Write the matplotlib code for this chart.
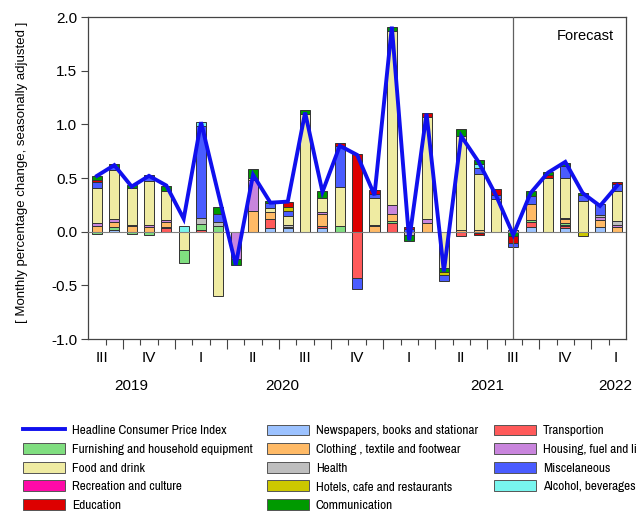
import numpy as np
import matplotlib
matplotlib.use("Agg")
import matplotlib.pyplot as plt
from matplotlib import font_manager
from matplotlib.patches import Patch
from matplotlib.lines import Line2D

# ---------------- data (monthly, Aug 2019 .. Feb 2022) ----------------
months = ["2019-08", "2019-09", "2019-10", "2019-11", "2019-12",
          "2020-01", "2020-02", "2020-03", "2020-04", "2020-05", "2020-06",
          "2020-07", "2020-08", "2020-09", "2020-10", "2020-11", "2020-12",
          "2021-01", "2021-02", "2021-03", "2021-04", "2021-05", "2021-06",
          "2021-07", "2021-08", "2021-09", "2021-10", "2021-11", "2021-12",
          "2022-01", "2022-02"]

headline = [0.52, 0.62, 0.42, 0.52, 0.43, 0.12, 1.02, 0.35, -0.31, 0.53, 0.27,
            0.28, 1.11, 0.37, 0.80, 0.715, 0.34, 1.91, -0.08, 1.10, -0.37, 0.89,
            0.65, 0.34, -0.03, 0.36, 0.55, 0.65, 0.36, 0.24, 0.43]

furnishing = [-0.02, 0.02, -0.02, -0.035, 0, -0.12, 0.05, 0.055, 0, 0, 0,
              0.015, 0, 0, 0.055, 0, 0, 0.02, 0, 0, 0, 0,
              0, 0, 0, 0.02, 0, 0.015, 0, 0, 0]
food = [0.33, 0.46, 0.34, 0.41, 0.27, -0.17, 0, -0.60, 0, 0.02, 0.04,
        0.085, 1.10, 0.13, 0.36, 0, 0.25, 1.62, 0, 0.955, -0.34, 0.87,
        0.52, 0.30, 0, 0, 0.50, 0.37, 0.29, 0, 0.28]
recreation = [0, 0, 0, 0, 0.01, 0, 0, 0, 0, 0, 0,
              0, 0, 0, 0, 0, 0, 0, 0, 0, 0, 0,
              0, 0, 0, 0, 0, 0.015, 0, 0, 0]
education = [0.025, 0, 0, 0, 0, 0, 0, 0, 0, 0, 0,
             0.045, 0, 0, 0.03, 0.72, 0.03, 0, 0.02, 0.04, 0, 0,
             -0.025, 0.06, -0.07, 0, 0.025, 0, 0, 0, 0.02]
newspapers = [0, 0.02, 0, 0, 0, 0, 0, 0, 0, 0, 0.035,
              0.03, 0, 0.03, 0, 0, 0, 0, 0, 0, 0, 0,
              0, 0, 0, 0.045, 0, 0.03, 0, 0.04, 0]
clothing = [0.05, 0.05, 0.05, 0.045, 0.05, 0, 0, 0, 0, 0.19, 0.065,
            0, 0, 0.11, 0, 0, 0.055, 0.06, 0, 0.085, 0, 0.02,
            0.02, 0, 0.015, 0.145, 0, 0.035, 0, 0.065, 0.04]
health = [0, 0, 0, 0, 0, 0, 0.055, 0.035, 0, 0, 0,
          0.02, 0, 0, 0, 0, 0.01, 0, -0.035, 0, 0, 0,
          -0.01, 0, 0, 0, 0, 0, 0, 0.02, 0.03]
hotels = [0, 0, 0, 0, 0, 0, 0, 0, 0, 0, 0,
          0.035, 0, 0, 0, 0, 0, 0, 0, 0, -0.02, 0,
          0, 0, 0, 0, 0, 0, -0.04, 0, 0]
communication = [0.03, 0.035, 0.03, 0, 0.045, 0, 0, 0.07, -0.06, 0.08, 0.025,
                 0, 0.03, 0.07, 0, 0, 0, 0.045, -0.055, 0, -0.04, 0.065,
                 0.035, 0, -0.04, 0.04, 0.035, 0.03, 0.02, 0, 0]
transport = [0, 0, 0, 0, 0.03, 0, 0.02, 0, 0, 0, 0.08,
             0, 0, 0.025, 0, -0.43, 0, 0.08, 0, 0, 0, -0.04,
             0, 0, 0, 0.045, 0, 0.02, 0, 0, 0]
housing = [0.03, 0.025, 0.015, 0.015, 0.02, 0, 0, 0, -0.25, 0.29, 0,
           0, 0, 0.015, 0, 0, 0, 0.085, 0, 0.03, 0, 0,
           0, 0, 0, 0, 0, 0.015, 0, 0.03, 0.025]
misc = [0.05, 0.025, 0, 0.055, 0, 0, 0.86, 0.07, 0, 0, 0.045,
        0.045, 0, 0, 0.38, -0.10, 0.04, 0, 0.025, 0, -0.06, 0,
        0.05, 0.04, -0.03, 0.08, 0, 0.11, 0.05, 0.10, 0.065]
alcohol = [0, 0, 0, 0, 0, 0.05, 0.04, 0, 0, 0, 0,
           0, 0, 0, 0, 0, 0, 0, 0, 0, 0, 0,
           0.04, 0, 0, 0, 0, 0, 0, 0, 0]

quarter_labels = ["III", "IV", "I", "II", "III", "IV", "I", "II", "III", "IV", "I"]
quarter_pos = [0.3, 3, 6, 9, 12, 15, 18, 21, 24, 27, 29.9]
year_labels = ["2019", "2020", "2021", "2022"]
year_pos = [2.0, 10.7, 22.5, 29.9]
forecast_start = 24

series = {
    "Furnishing and household equipment": (furnishing, "#80DE80"),
    "Food and drink": (food, "#EFEBA2"),
    "Recreation and culture": (recreation, "#FF0AA8"),
    "Education": (education, "#DD0000"),
    "Newspapers, books and stationar": (newspapers, "#9CC2FF"),
    "Clothing , textile and footwear": (clothing, "#FFBA66"),
    "Health": (health, "#BEBEBE"),
    "Hotels, cafe and restaurants": (hotels, "#CCC800"),
    "Communication": (communication, "#009A00"),
    "Transportion": (transport, "#FF5A5A"),
    "Housing, fuel and light": (housing, "#C985DD"),
    "Miscelaneous": (misc, "#4A5CFF"),
    "Alcohol, beverages": (alcohol, "#78F5EE"),
}

pos_order = ["Newspapers, books and stationar", "Transportion", "Recreation and culture",
             "Furnishing and household equipment", "Clothing , textile and footwear",
             "Housing, fuel and light", "Health", "Food and drink", "Miscelaneous",
             "Alcohol, beverages", "Hotels, cafe and restaurants",
             "Education", "Communication"]
neg_order = ["Food and drink", "Housing, fuel and light", "Transportion",
             "Clothing , textile and footwear", "Health",
             "Furnishing and household equipment", "Communication", "Education",
             "Hotels, cafe and restaurants", "Miscelaneous",
             "Newspapers, books and stationar", "Alcohol, beverages",
             "Recreation and culture"]

# ---------------- fonts ----------------
def have(name):
    try:
        font_manager.findfont(font_manager.FontProperties(family=name), fallback_to_default=False)
        return True
    except Exception:
        return False

base_font = "Liberation Sans" if have("Liberation Sans") else "DejaVu Sans"
plt.rcParams["font.family"] = [base_font, "DejaVu Sans"]
plt.rcParams["axes.unicode_minus"] = False

# look for a narrow / condensed face for the legend
legend_prop = None
for f in font_manager.fontManager.ttflist:
    if ("Narrow" in f.name) and f.style == "normal" and f.weight in (400, "normal", "regular"):
        legend_prop = font_manager.FontProperties(fname=f.fname, size=9.6)
        break
if legend_prop is None:
    for f in font_manager.fontManager.ttflist:
        if f.name == "DejaVu Sans" and "condensed" in str(f.stretch) and f.style == "normal" \
                and f.weight in (400, "normal", "regular") and "Condensed" in f.fname and "Bold" not in f.fname:
            legend_prop = font_manager.FontProperties(fname=f.fname, size=8.3)
            break
if legend_prop is None:
    legend_prop = font_manager.FontProperties(family=[base_font, "DejaVu Sans"], size=8)

W, H = 636, 511
fig = plt.figure(figsize=(W / 100, H / 100), dpi=100)
L, R, T, B = 88.3, 626.0, 17.0, 339.0
ax = fig.add_axes([L / W, 1 - B / H, (R - L) / W, (B - T) / H])

x = np.arange(len(months))
bw = 0.58
edge = "#333333"

pos_base = np.zeros(len(x))
for name in pos_order:
    vals, col = series[name]
    v = np.array(vals, dtype=float)
    m = v > 0
    if m.any():
        ax.bar(x[m], v[m], bottom=pos_base[m], width=bw, color=col,
               edgecolor=edge, linewidth=0.7, zorder=2)
    pos_base = pos_base + np.where(m, v, 0)

neg_base = np.zeros(len(x))
for name in neg_order:
    vals, col = series[name]
    v = np.array(vals, dtype=float)
    m = v < 0
    if m.any():
        ax.bar(x[m], v[m], bottom=neg_base[m], width=bw, color=col,
               edgecolor=edge, linewidth=0.7, zorder=2)
    neg_base = neg_base + np.where(m, v, 0)

ax.axhline(0, color="#808080", lw=0.8, zorder=3)
ax.axvline(forecast_start, color="#606060", lw=0.9, zorder=3)
ax.plot(x, headline, color="#1010EE", lw=2.8, zorder=5, solid_joinstyle="miter")

ax.set_xlim(-0.5, len(x) - 0.5)
ax.set_ylim(-1.0, 2.0)
ax.set_yticks(np.arange(-1.0, 2.01, 0.5))
ax.set_yticklabels(["%.1f" % t for t in np.arange(-1.0, 2.01, 0.5)], fontsize=11)
ax.tick_params(axis="y", direction="out", length=5, width=0.8, color="#444444", pad=3)

major = np.arange(1.5, len(x) - 0.5, 3)
minor = np.arange(0.5, len(x) - 0.5, 1)
ax.set_xticks(major)
ax.set_xticklabels([])
ax.set_xticks(minor, minor=True)
ax.tick_params(axis="x", which="major", direction="out", length=7, width=0.8, color="#444444")
ax.tick_params(axis="x", which="minor", direction="out", length=4, width=0.8, color="#444444")

for s in ax.spines.values():
    s.set_color("#444444")
    s.set_linewidth(0.9)

trans = matplotlib.transforms.blended_transform_factory(ax.transData, fig.transFigure)
for lab, p in zip(quarter_labels, quarter_pos):
    fig.text(p, 1 - 358 / H, lab, transform=trans, ha="center", va="center", fontsize=11)
for lab, p in zip(year_labels, year_pos):
    fig.text(p, 1 - 386 / H, lab, transform=trans, ha="center", va="center", fontsize=11)

fig.text(585 / W, 1 - 36 / H, "Forecast", ha="center", va="center", fontsize=10.5)

fig.text(22 / W, 1 - 172 / H, "[ Monthly percentage change, seasonally adjusted ]",
         rotation=90, ha="center", va="center", fontsize=9.5)

# ---------------- legend (three columns) ----------------
legend_cols = [
    ["Headline Consumer Price Index", "Furnishing and household equipment",
     "Food and drink", "Recreation and culture", "Education"],
    ["Newspapers, books and stationar", "Clothing , textile and footwear", "Health",
     "Hotels, cafe and restaurants", "Communication"],
    ["Transportion", "Housing, fuel and light", "Miscelaneous",
     "Alcohol, beverages"],
]
fs = legend_prop.get_size_in_points() * 100 / 72.0
col_x = [23, 267, 494]
for cx, names in zip(col_x, legend_cols):
    handles = []
    for n in names:
        if n == "Headline Consumer Price Index":
            handles.append(Line2D([], [], color="#1010EE", lw=2.8))
        else:
            handles.append(Patch(facecolor=series[n][1], edgecolor="#555555", lw=0.7))
    fig.legend(handles, names, loc="upper left", bbox_to_anchor=(cx / W, 1 - 424.5 / H),
               frameon=False, borderpad=0, borderaxespad=0, handlelength=42 / fs,
               handleheight=11.5 / fs, handletextpad=7 / fs, labelspacing=6.65 / fs,
               prop=legend_prop)

fig.savefig("out.png", dpi=100)
